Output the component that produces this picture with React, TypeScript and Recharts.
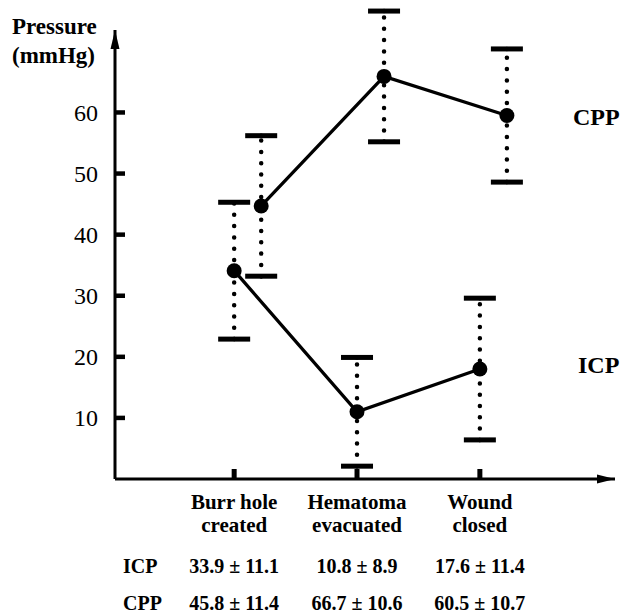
import React from 'react';
import { ComposedChart, Line, XAxis, YAxis, ErrorBar, ReferenceDot } from 'recharts';

// ---- data ----
const categories: string[][] = [
  ['Burr hole', 'created'],
  ['Hematoma', 'evacuated'],
  ['Wound', 'closed'],
];
const categoryX = [1, 2, 3];
const icpMean = [34.1, 11.0, 18.0];
const icpSd = [11.2, 8.9, 11.6];
const cppMean = [44.7, 65.9, 59.5];
const cppSd = [11.5, 10.7, 10.9];
const icpText = ['33.9 ± 11.1', '10.8 ± 8.9', '17.6 ± 11.4'];
const cppText = ['45.8 ± 11.4', '66.7 ± 10.6', '60.5 ± 10.7'];
const yTicks = [10, 20, 30, 40, 50, 60];

const icpData = categoryX.map((x, i) => ({ x, y: icpMean[i], err: icpSd[i] }));
const cppData = categoryX.map((x, i) => ({ x, y: cppMean[i], err: cppSd[i] }));
const icpCaps = icpData.flatMap((d) => [{ x: d.x, y: d.y + d.err }, { x: d.x, y: d.y - d.err }]);
const cppCaps = cppData.flatMap((d) => [{ x: d.x, y: d.y + d.err }, { x: d.x, y: d.y - d.err }]);

const FONT = 'Liberation Serif, DejaVu Serif, Times New Roman, serif';

const CategoryTick = (props: any) => {
  const { x, y, payload } = props;
  const i = categoryX.indexOf(payload.value);
  if (i < 0) return null;
  return (
    <g fontFamily={FONT} fontWeight={700} fill="#000">
      <text x={x} y={y + 30} textAnchor="middle" fontSize={21}>{categories[i][0]}</text>
      <text x={x} y={y + 53} textAnchor="middle" fontSize={21}>{categories[i][1]}</text>
      <text x={x} y={y + 94} textAnchor="middle" fontSize={20}>{icpText[i]}</text>
      <text x={x} y={y + 131} textAnchor="middle" fontSize={20}>{cppText[i]}</text>
    </g>
  );
};

const Cap = (p: any) => (
  <rect x={p.cx - 16} y={p.cy - 2.5} width={32} height={5} fill="#000" />
);

const UpArrow = (p: any) => (
  <polygon points={`${p.cx},${p.cy} ${p.cx - 4.5},${p.cy + 19} ${p.cx + 4.5},${p.cy + 19}`} fill="#000" />
);
const RightArrow = (p: any) => (
  <polygon points={`${p.cx},${p.cy} ${p.cx - 18},${p.cy - 4.5} ${p.cx - 18},${p.cy + 4.5}`} fill="#000" />
);

export default function App() {
  const dotted = {
    stroke: '#000',
    strokeWidth: 4.5,
    strokeDasharray: '0 11.3',
    strokeLinecap: 'round' as const,
  };
  return (
    <div style={{ position: 'absolute', left: 0, top: 0, width: 625, height: 613, background: '#fff' }}>
      <ComposedChart width={625} height={613} margin={{ top: 30, right: 10, bottom: 0, left: 55 }}>
        <XAxis xAxisId="cpp" type="number" dataKey="x" domain={[-0.19, 3.88]} hide height={0} allowDataOverflow />
        <XAxis
          xAxisId="icp"
          type="number"
          dataKey="x"
          domain={[0.03, 4.1]}
          ticks={categoryX}
          interval={0}
          height={134}
          tickSize={-10}
          tickMargin={10}
          axisLine={{ stroke: '#000', strokeWidth: 3 }}
          tickLine={{ stroke: '#000', strokeWidth: 5 }}
          tick={<CategoryTick />}
          allowDataOverflow
        />
        <YAxis
          type="number"
          dataKey="y"
          domain={[0, 73.5]}
          ticks={yTicks}
          interval={0}
          width={60}
          tickSize={-10}
          tickMargin={27}
          axisLine={{ stroke: '#000', strokeWidth: 3 }}
          tickLine={{ stroke: '#000', strokeWidth: 4.5 }}
          tick={{ fill: '#000', fontSize: 24, fontFamily: FONT }}
          allowDataOverflow
        />
        <Line
          xAxisId="icp"
          data={icpData}
          dataKey="y"
          stroke="#000"
          strokeWidth={3.3}
          dot={{ r: 7.5, fill: '#000', stroke: '#000', strokeWidth: 0 }}
          isAnimationActive={false}
        >
          <ErrorBar dataKey="err" width={0} direction="y" {...dotted} />
        </Line>
        <Line
          xAxisId="cpp"
          data={cppData}
          dataKey="y"
          stroke="#000"
          strokeWidth={3.3}
          dot={{ r: 7.5, fill: '#000', stroke: '#000', strokeWidth: 0 }}
          isAnimationActive={false}
        >
          <ErrorBar dataKey="err" width={0} direction="y" {...dotted} />
        </Line>
        {icpCaps.map((c, i) => (
          <ReferenceDot key={`ic${i}`} xAxisId="icp" x={c.x} y={c.y} r={0} ifOverflow="visible" shape={<Cap />} />
        ))}
        {cppCaps.map((c, i) => (
          <ReferenceDot key={`cc${i}`} xAxisId="cpp" x={c.x} y={c.y} r={0} ifOverflow="visible" shape={<Cap />} />
        ))}
        <ReferenceDot xAxisId="icp" x={0.03} y={73.5} r={0} ifOverflow="visible" shape={<UpArrow />} />
        <ReferenceDot xAxisId="icp" x={4.1} y={0} r={0} ifOverflow="visible" shape={<RightArrow />} />
      </ComposedChart>
      <svg width={625} height={613} style={{ position: 'absolute', left: 0, top: 0, pointerEvents: 'none' }}>
        <g fontFamily={FONT} fontWeight={700} fill="#000">
          <text x={12} y={34} fontSize={23}>Pressure</text>
          <text x={12} y={63} fontSize={23}>(mmHg)</text>
          <text x={573} y={125} fontSize={24}>CPP</text>
          <text x={578} y={373} fontSize={24}>ICP</text>
          <text x={123} y={573} fontSize={20}>ICP</text>
          <text x={123} y={610} fontSize={20}>CPP</text>
        </g>
      </svg>
    </div>
  );
}
